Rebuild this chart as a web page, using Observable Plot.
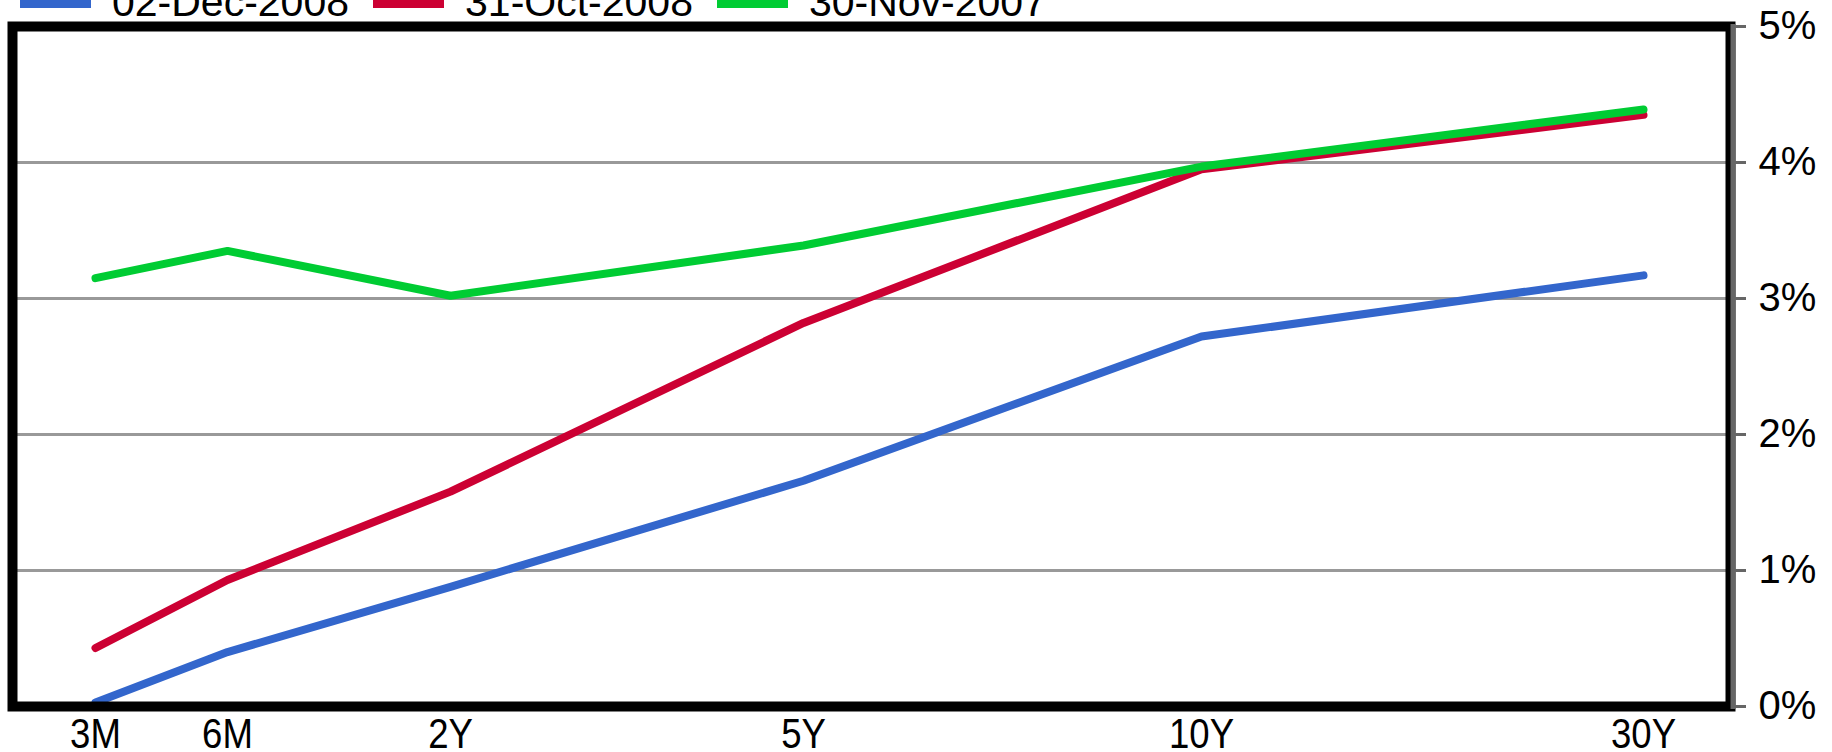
<!DOCTYPE html>
<html><head><meta charset="utf-8">
<script src="https://cdn.jsdelivr.net/npm/d3@7"></script>
<script src="https://cdn.jsdelivr.net/npm/@observablehq/plot@0.6"></script>
<style>
html,body{margin:0;padding:0;background:#fff;}
#wrap{position:relative;width:1832px;height:752px;overflow:hidden;font-family:"Liberation Sans",Arial,sans-serif;}
#legend{position:absolute;left:20px;top:-18px;display:flex;align-items:flex-start;font-size:41px;line-height:41px;white-space:nowrap;color:#000;z-index:2;}
.sw{width:71px;height:8px;margin-top:18px;margin-right:21px;}
.lt{margin-right:24px;}
#wrap svg{position:absolute;left:0;top:0;display:block;}
</style></head><body><div id="wrap"><div id="legend"></div></div>
<script>
// ---- data ----
const tenorLabels = ["3M", "6M", "2Y", "5Y", "10Y", "30Y"];
const tenorYears = [0.25, 0.5, 2, 5, 10, 30];
const seriesNames = ["02-Dec-2008", "31-Oct-2008", "30-Nov-2007"];
const seriesColors = ["#3366CC", "#CC0033", "#00CC33"];
const dec2008 = [0.03, 0.40, 0.88, 1.66, 2.72, 3.17];
const oct2008 = [0.43, 0.93, 1.58, 2.82, 3.95, 4.35];
const nov2007 = [3.15, 3.35, 3.02, 3.39, 3.97, 4.39];
const yTicks = [0, 1, 2, 3, 4, 5];
const gridTicks = [1, 2, 3, 4];

// layout: horizontal placement of the tenor categories (pixels)
const tenorRange = [95, 227, 450, 803, 1201, 1643];

const seriesValues = [dec2008, oct2008, nov2007];
const data = [];
seriesNames.forEach((name, s) => {
  tenorYears.forEach((t, i) => data.push({series: name, tenor: t, value: seriesValues[s][i]}));
});

const chart = Plot.plot({
  width: 1832,
  height: 752,
  marginLeft: 12,
  marginRight: 102,
  marginTop: 26,
  marginBottom: 46,
  style: {fontFamily: "'Liberation Sans', Arial, sans-serif", fontSize: "40px", background: "white", overflow: "visible"},
  x: {type: "linear", domain: tenorYears, range: tenorRange},
  y: {domain: [0, 5]},
  color: {domain: seriesNames, range: seriesColors},
  marks: [
    Plot.gridY(gridTicks, {stroke: "#999999", strokeOpacity: 1, strokeWidth: 3}),
    Plot.line(data, {x: "tenor", y: "value", z: "series", stroke: "series", strokeWidth: 8, curve: "linear"}),
    Plot.frame({stroke: "black", strokeWidth: 10}),
    Plot.frame({anchor: "right", stroke: "#666666", strokeWidth: 5, dx: 2.5}),
    Plot.axisY(yTicks, {anchor: "right", tickSize: 15, tickPadding: 13, tickFormat: d => d + "%", stroke: "#666666", strokeWidth: 3, fill: "black", label: null, fontSize: 40}),
    Plot.axisX(tenorYears, {anchor: "bottom", tickSize: 0, tickPadding: 12, tickFormat: d => tenorLabels[tenorYears.indexOf(d)], fill: "black", label: null, fontSize: 42})
  ]
});

const wrap = document.getElementById("wrap");
wrap.appendChild(chart);

// legend
const legend = document.getElementById("legend");
seriesNames.forEach((name, i) => {
  const sw = document.createElement("div");
  sw.className = "sw";
  sw.style.background = seriesColors[i];
  const t = document.createElement("div");
  t.className = "lt";
  t.textContent = name;
  legend.appendChild(sw);
  legend.appendChild(t);
});

// condensed x tick labels
d3.select(chart).selectAll("g[aria-label='x-axis tick label'] text").each(function() {
  const w = this.getComputedTextLength();
  this.setAttribute("lengthAdjust", "spacingAndGlyphs");
  this.setAttribute("textLength", (w * 0.87).toFixed(1));
});
</script>
</body></html>
